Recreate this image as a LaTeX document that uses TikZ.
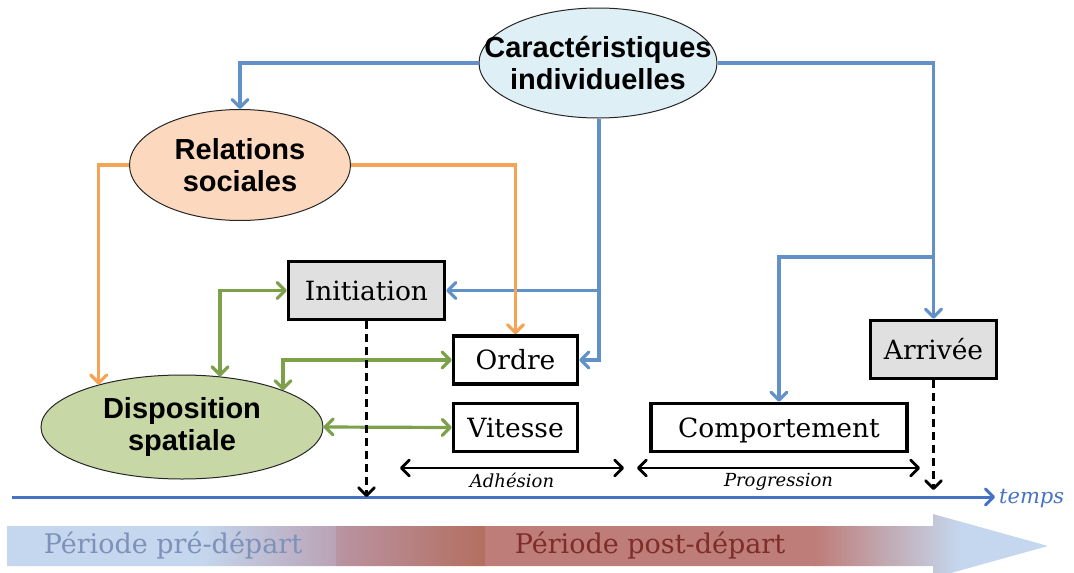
\documentclass[tikz,border=0pt]{standalone}
\usepackage{fontspec}
\newfontfamily\headfont{Liberation Sans}
\newfontfamily\boxfont{DejaVu Serif}
\usetikzlibrary{shapes.geometric,arrows.meta}
\definecolor{lineblue}{RGB}{98,145,200}
\definecolor{lineorange}{RGB}{245,163,85}
\definecolor{linegreen}{RGB}{125,160,75}
\definecolor{caracfill}{RGB}{222,239,245}
\definecolor{relfill}{RGB}{251,216,190}
\definecolor{dispfill}{RGB}{200,215,166}
\definecolor{boxgray}{RGB}{224,224,224}
\definecolor{axisblue}{RGB}{70,114,196}
\definecolor{periodblue}{RGB}{196,215,238}
\definecolor{mauve}{RGB}{186,162,182}
\definecolor{mauvedark}{RGB}{185,148,162}
\definecolor{rust}{RGB}{180,110,96}
\definecolor{postred}{RGB}{190,125,120}
\definecolor{pretext}{RGB}{125,145,185}
\definecolor{posttext}{RGB}{125,45,42}
\begin{document}
\begin{tikzpicture}[x=1pt, y=-1pt,
  >={Straight Barb[length=8pt,width=16pt,round]},
  oval/.style={ellipse, draw=black!85, line width=1pt, inner xsep=-40pt, inner ysep=0pt, align=center,
    font=\headfont\bfseries\fontsize{29}{32}\selectfont},
  stage/.style={draw, line width=3.4pt, inner sep=0pt, text height=19.5pt, text depth=0pt,
    font=\boxfont\fontsize{26.5}{32}\selectfont},
  blueline/.style={lineblue, line width=3.2pt},
  orangeline/.style={lineorange, line width=3.2pt},
  greenline/.style={linegreen, line width=3.2pt},
  dashline/.style={black, line width=2.8pt, dash pattern=on 8pt off 5pt},
  phase/.style={black, line width=2.8pt},
  phaselabel/.style={font=\boxfont\itshape\fontsize{18}{22}\selectfont, inner sep=4pt},
  period/.style={font=\boxfont\fontsize{27}{32}\selectfont}]
\useasboundingbox (0,0) rectangle (1074,573);

% bande des periodes
\begin{scope}
\clip (7,526) -- (933,526) -- (933,514) -- (1048,546) -- (933,578) -- (933,566) -- (7,566) -- cycle;
\fill[periodblue] (6,510) rectangle (201,580);
\shade[left color=periodblue, right color=mauve] (200,510) rectangle (337,580);
\shade[left color=mauvedark, right color=rust] (336,510) rectangle (486,580);
\fill[postred] (485,510) rectangle (816,580);
\shade[left color=postred, right color=periodblue] (815,510) rectangle (961,580);
\fill[periodblue] (960,510) rectangle (1050,580);
\end{scope}
\node[period, text=pretext] (pre) at (173,546) {Période pré-départ};
\node[period, text=posttext] (post) at (650,546) {Période post-départ};

% axe du temps
\coordinate (t0) at (12,497);
\coordinate (t1) at (995,497);
\draw[axisblue, line width=3pt, ->] (t0) -- (t1);
\node[anchor=west, text=axisblue, font=\boxfont\itshape\fontsize{21}{26}\selectfont, inner sep=4pt] (temps) at ([yshift=-2pt]t1) {temps};

% noeuds
\node[oval, fill=caracfill, minimum width=238pt, minimum height=110pt] (carac) at (598,63) {Caractéristiques\\individuelles};
\node[oval, fill=relfill, minimum width=221pt, minimum height=111pt] (rel) at (240,165) {Relations\\sociales};
\node[oval, fill=dispfill, minimum width=282pt, minimum height=104pt] (disp) at (182,427) {Disposition\\spatiale};
\node[stage, fill=boxgray, minimum width=156pt, minimum height=58pt] (init) at (366.5,290.5) {Initiation};
\node[stage, minimum width=124pt, minimum height=48pt] (ordre) at (515.5,360) {Ordre};
\node[stage, minimum width=124pt, minimum height=48pt] (vitesse) at (515.5,427.5) {Vitesse};
\node[stage, minimum width=256pt, minimum height=48pt] (comp) at (779,427.5) {Comportement};
\node[stage, fill=boxgray, minimum width=126pt, minimum height=58pt] (arrivee) at (933.5,349.5) {Arrivée};

% liens bleus
\coordinate (bi) at ([xshift=1pt]carac.south |- init.east);
\coordinate (bc) at (arrivee.north |- 0,257);
\coordinate (bo) at ([xshift=1pt]carac.south);
\draw[blueline, ->] (carac.west) -| (rel.north);
\draw[blueline, ->] (carac.east) -| (arrivee.north);
\draw[blueline, ->] (bc) -| (comp.north);
\draw[blueline, ->] (bo) |- (ordre.east);
\draw[blueline, ->] (bi) -- (init.east);

% liens orange
\draw[orangeline, ->] (rel.west) -| (disp.153);
\draw[orangeline, ->] (rel.east) -| (ordre.north);

% liens verts
\draw[greenline, <->] (init.west) -| (disp.53);
\draw[greenline, <->] (ordre.west) -| (disp.20);
\draw[greenline, <->] (disp.east) -- (vitesse.west);

% pointilles vers l'axe
\coordinate (ie) at (init.south |- t0);
\coordinate (ae) at (arrivee.south |- 0,490);
\draw[dashline, ->] (init.south) -- (ie);
\draw[dashline, ->] (arrivee.south) -- (ae);

% phases
\coordinate (ad0) at (400,468);
\coordinate (ad1) at (624,468);
\coordinate (pg0) at (637,468);
\coordinate (pg1) at (920,468);
\draw[phase, <->] (ad0) -- node[below, phaselabel] (adh) {Adhésion} (ad1);
\draw[phase, <->] (pg0) -- node[below, phaselabel] (prog) {Progression} (pg1);
\end{tikzpicture}
\end{document}
